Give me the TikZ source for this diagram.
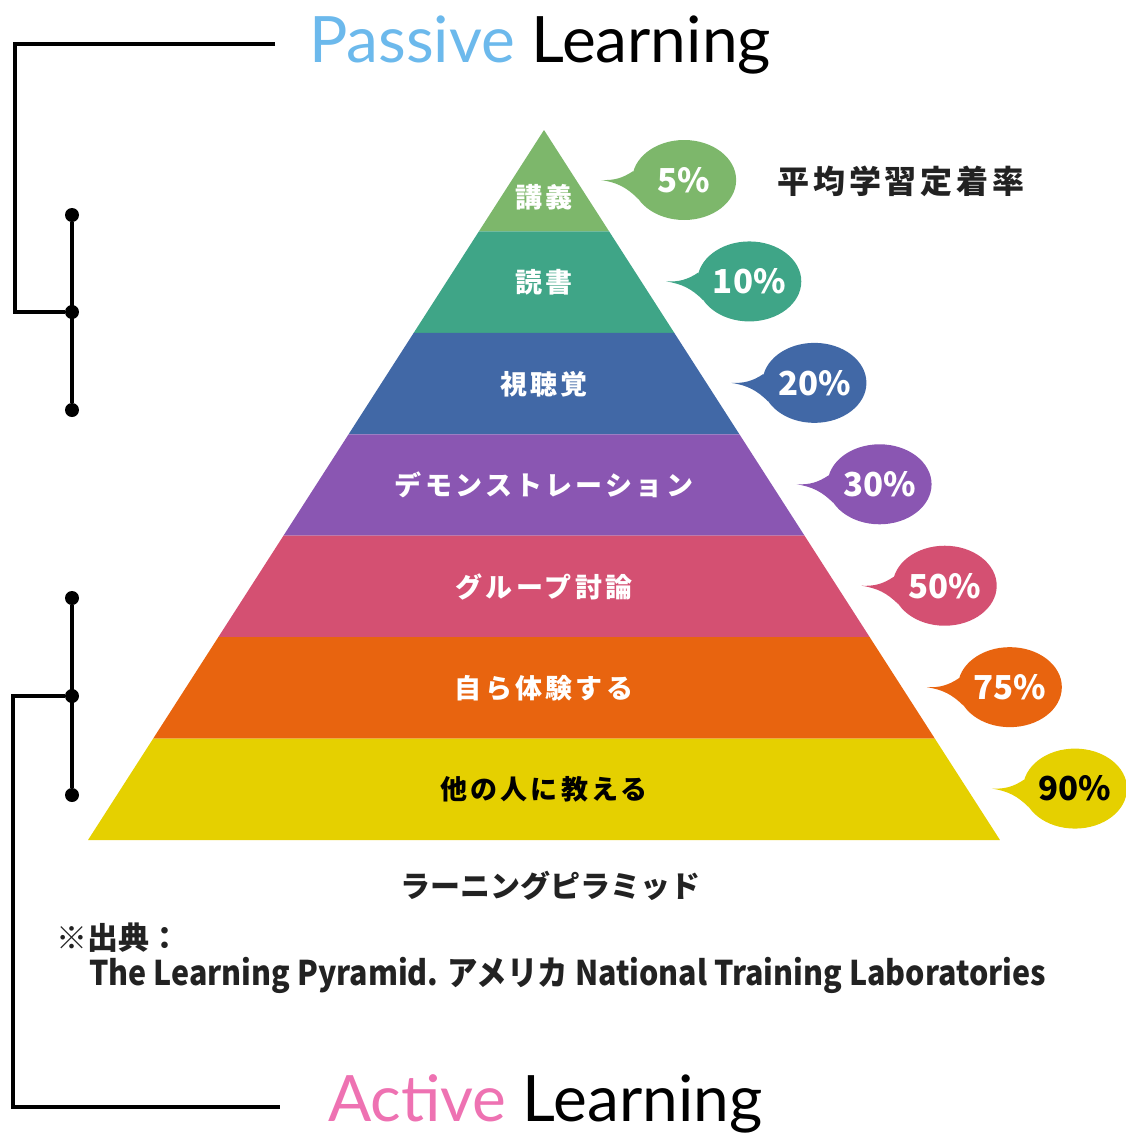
\documentclass[tikz,border=0pt]{standalone}
\usepackage{fontspec}
\setmainfont{Lato}
\newfontfamily\jpfont{Noto Sans CJK JP}
\newfontfamily\jpwide{Noto Sans CJK JP}[LetterSpace=12]
\usetikzlibrary{shapes.geometric}

\definecolor{lecturegreen}{HTML}{7DB76B}
\definecolor{readgreen}{HTML}{3FA587}
\definecolor{avblue}{HTML}{4168A6}
\definecolor{demopurple}{HTML}{8A56B2}
\definecolor{groupred}{HTML}{D45072}
\definecolor{doorange}{HTML}{E8640F}
\definecolor{teachyellow}{HTML}{E5D000}
\definecolor{passiveblue}{HTML}{6CB9EC}
\definecolor{activepink}{HTML}{EE72B2}
\definecolor{inkgrey}{HTML}{222222}

\tikzset{
  bracket/.style={line width=3.5pt},
  dot/.style={circle, fill=black, inner sep=0pt, minimum size=14pt},
  bubble/.style={ellipse, inner sep=0pt, minimum width=104pt, minimum height=80pt,
    font=\jpfont\bfseries\fontsize{33}{33}\selectfont},
  bandlabel/.style={inner sep=0pt, font=\jpwide\bfseries\fontsize{27}{27}\selectfont},
  heading/.style={inner sep=0pt, font=\fontsize{64}{64}\selectfont},
  note/.style={inner sep=0pt, text=inkgrey, font=\jpfont\bfseries\fontsize{30}{30}\selectfont}
}

\begin{document}
\begin{tikzpicture}[x=1pt,y=-1pt]
\useasboundingbox (0,0) rectangle (1125,1135);

% pyramid bands and rate bubbles
\foreach \col/\txt/\pct/\ink [count=\i from 0] in {
  lecturegreen/講義/5\%/white, readgreen/読書/10\%/white, avblue/視聴覚/20\%/white,
  demopurple/デモンストレーション/30\%/white, groupred/グループ討論/50\%/white,
  doorange/自ら体験する/75\%/white, teachyellow/他の人に教える/90\%/black}
{
  \pgfmathsetmacro\yt{130+101.43*\i}
  \pgfmathsetmacro\yb{\yt+101.43}
  \pgfmathsetmacro\wt{65.14*\i}
  \pgfmathsetmacro\wb{\wt+65.14}
  \pgfmathsetmacro\ly{\i==0 ? 197 : \yt+51}
  \fill[\col] (544-\wt,\yt) -- (544+\wt,\yt) -- (544+\wb,\yb) -- (544-\wb,\yb) -- cycle;
  \node[bandlabel, text=\ink] (l\i) at (544,\ly) {\txt};
  \coordinate (t\i) at (544+\wb-8,\yt+50);
  \node[bubble, fill=\col, text=\ink] (p\i) at (544+\wb+75,\yt+50) {\pct};
  \fill[\col] (t\i) to[bend right=18] (p\i.170) -- (p\i.202) to[bend right=18] (t\i);
}

% passive / active brackets
\node[dot] (d1) at (72,215) {};
\node[dot] (d2) at (72,312) {};
\node[dot] (d3) at (72,410) {};
\node[dot] (d4) at (72,598) {};
\node[dot] (d5) at (72,696) {};
\node[dot] (d6) at (72,795) {};
\coordinate (pstart) at (275,44);
\coordinate (pbend) at (15,44);
\coordinate (aend) at (280,1107);
\coordinate (abend) at (13,1107);
\draw[bracket] (d1) -- (d3);
\draw[bracket] (d4) -- (d6);
\draw[bracket] (pstart) -- (pbend) |- (d2);
\draw[bracket] (d5) -| (abend) -- (aend);

\node[heading, anchor=base west] (passive) at (309,62) {\textcolor{passiveblue}{Passive} Learning};
\node[heading, anchor=base west] (active) at (328,1121) {\textcolor{activepink}{Active} Learning};

% captions
\node[note, font=\jpwide\bfseries\fontsize{32}{32}\selectfont] (rate) at (901,181) {平均学習定着率};
\node[note] (caption) at (550,886) {ラーニングピラミッド};
\node[note, anchor=west, font=\jpfont\bfseries\fontsize{31}{31}\selectfont] (source) at (56,938) {※出典：};
\node[note, anchor=west, font=\jpfont\bfseries\fontsize{34}{34}\selectfont] (ref) at (89,975)
  {\scalebox{0.895}[1]{The Learning Pyramid. アメリカ National Training Laboratories}};

\end{tikzpicture}
\end{document}
